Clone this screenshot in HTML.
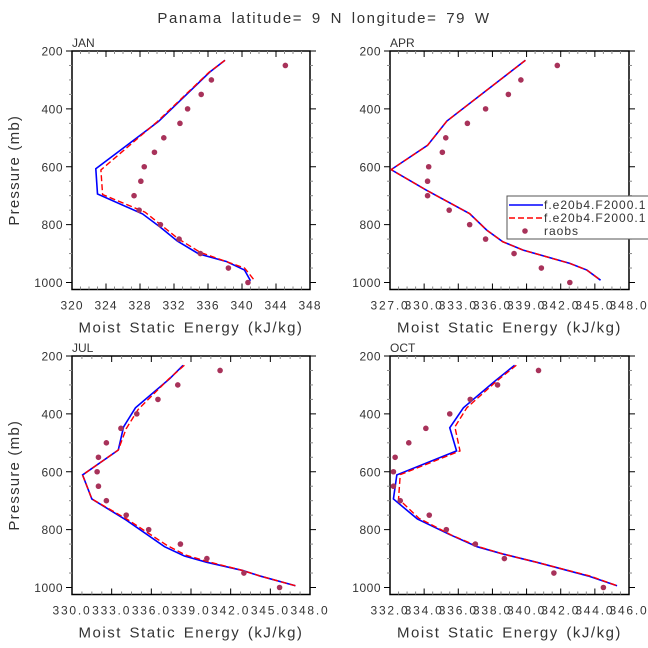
<!DOCTYPE html>
<html><head><meta charset="utf-8">
<style>
body{margin:0;background:#fff;}
svg{display:block;font-family:"Liberation Sans",sans-serif;}
</style></head>
<body>
<svg id="chart" width="648" height="648" viewBox="0 0 648 648" xmlns="http://www.w3.org/2000/svg">
<text x="324" y="23" text-anchor="middle" font-size="15" fill="#333" letter-spacing="1.6" word-spacing="3">Panama  latitude= 9 N longitude= 79 W</text>
</svg>
<script>
// ---- data ----
const obsLevels = [250,300,350,400,450,500,550,600,650,700,750,800,850,900,950,1000];
const pressureTicks = [200,400,600,800,1000];

const janXTicks = [320,324,328,332,336,340,344,348];
const janBlueE = [338.0,336.2,330.2,322.8,323.0,328.3,330.4,332.4,334.9,338.2,340.3,341.0];
const janBlueP = [232,273,443,607,694,763,809,857,901,928,957,994];
const janRedE = [338.0,336.1,330.0,323.4,323.6,328.6,332.5,335.1,340.3,341.5];
const janRedP = [232,274,445,611,696,757,849,896,950,994];
const janObs = [345.1,336.4,335.2,333.6,332.7,330.8,329.7,328.5,328.1,327.3,327.9,330.4,332.6,335.1,338.4,340.7];

const aprXTicks = [327,330,333,336,339,342,345,348];
const aprBlueE = [338.9,332.0,330.3,327.1,330.2,334.0,335.5,336.9,338.7,342.8,344.3,345.5];
const aprBlueP = [232,442,526,610,681,762,819,859,888,934,957,992];
const aprRedE = [338.9,332.0,330.3,327.1,330.2,334.0,335.5,336.9,338.7,342.8,344.3,345.5];
const aprRedP = [232,442,526,610,681,762,819,859,888,934,957,992];
const aprObs = [341.7,338.5,337.4,335.4,333.8,331.9,331.6,330.4,330.3,330.3,332.2,334.0,335.4,337.9,340.3,342.8];

const julXTicks = [330,333,336,339,342,345,348];
const julBlueE = [338.4,337.4,334.8,333.9,333.5,330.8,331.5,334.1,337.0,338.5,340.2,342.9,344.2,346.9];
const julBlueP = [232,278,379,445,525,611,694,767,859,891,913,941,960,994];
const julRedE = [338.5,337.3,335.0,334.1,333.5,330.8,331.5,334.2,337.2,338.6,340.3,342.9,344.2,346.9];
const julRedP = [232,280,385,451,525,611,694,765,855,888,911,941,960,994];
const julObs = [341.2,338.0,336.5,334.9,333.7,332.6,332.0,331.9,332.0,332.6,334.1,335.8,338.2,340.2,343.0,345.7];

const octXTicks = [332,334,336,338,340,342,344,346];
const octBlueE = [339.3,338.2,336.3,335.5,335.9,332.4,332.2,333.6,335.5,337.1,338.6,340.6,343.6,345.3];
const octBlueP = [232,284,379,448,528,611,694,763,817,859,884,913,960,994];
const octRedE = [339.4,338.3,336.5,335.8,336.1,332.6,332.5,333.7,335.6,337.2,338.6,340.6,343.7,345.3];
const octRedP = [232,284,379,445,528,610,694,761,819,859,884,913,960,994];
const octObs = [340.7,338.3,336.7,335.5,334.1,333.1,332.3,332.2,332.2,332.6,334.3,335.3,337.0,338.7,341.6,344.5];

const svg = document.getElementById('chart');
const NS = 'http://www.w3.org/2000/svg';
function mk(tag, attrs, parent){
  const e = document.createElementNS(NS, tag);
  for (const k in attrs) e.setAttribute(k, attrs[k]);
  (parent||svg).appendChild(e);
  return e;
}

function panel(cfg){
  const {name,x0,x1,y0,xmin,xmax,xticks,fmt,blueE,blueP,redE,redP,obs,showY,ls} = cfg;
  const y200 = y0, y1000 = y0 + 231.5;
  const ybot = y0 + 238.5;
  const g = mk('g', {});
  
  
  const sx = v => x0 + (v - xmin) / (xmax - xmin) * (x1 - x0);
  const sy = p => y200 + (p - 200) / 800 * (y1000 - y200);
  const fr = mk('rect', {x:x0, y:y0, width:x1-x0, height:ybot-y0, fill:'none', stroke:'#000', 'stroke-width':1.5}, g);
  
  
  const nMaj = xticks.length - 1;
  for (let i = 0; i <= nMaj * 4; i++) {
    const xx = x0 + i / (nMaj * 4) * (x1 - x0);
    const len = i % 4 === 0 ? 6 : 3;
    const col = i % 4 === 0 ? '#000' : '#888';
    mk('line', {x1:xx, x2:xx, y1:ybot, y2:ybot-len, stroke:col, 'stroke-width':1}, g);
    mk('line', {x1:xx, x2:xx, y1:y0, y2:y0+len, stroke:col, 'stroke-width':1}, g);
  }
  xticks.forEach(v => {
    const t = mk('text', {x:sx(v), y:ybot+20, 'text-anchor':'middle', 'font-size':12, fill:'#333', 'letter-spacing':ls}, g);
    
    
    t.textContent = fmt(v);
  });
  for (let p = 200; p <= 1000; p += 50) {
    const yy = sy(p);
    const maj = p % 200 === 0;
    const len = maj ? 6 : 3;
    const col = maj ? '#000' : '#888';
    mk('line', {x1:x0, x2:x0-len, y1:yy, y2:yy, stroke:col, 'stroke-width':1}, g);
    mk('line', {x1:x1, x2:x1+len, y1:yy, y2:yy, stroke:col, 'stroke-width':1}, g);
  }
  pressureTicks.forEach(p => {
    const t = mk('text', {x:x0-9, y:sy(p)+4.5, 'text-anchor':'end', 'font-size':12, fill:'#333', 'letter-spacing':0.5}, g);
    
    
    t.textContent = p;
  });
  const lab = mk('text', {x:x0, y:y0-4, 'font-size':12, fill:'#333'}, g);
  
  
  lab.textContent = name;
  const xt = mk('text', {x:(x0+x1)/2, y:ybot+43, 'text-anchor':'middle', 'font-size':15, fill:'#333', 'letter-spacing':1.5, 'word-spacing':2}, g);
  
  
  xt.textContent = 'Moist Static Energy (kJ/kg)';
  if (showY) {
    const cy = (y0 + ybot) / 2;
    const yt = mk('text', {x:19, y:cy, 'text-anchor':'middle', 'font-size':15, fill:'#333', 'letter-spacing':1.2, transform:'rotate(-90 19 '+cy+')'}, g);
    
    
    yt.textContent = 'Pressure (mb)';
  }
  const cp = mk('clipPath', {id:'clip'+name}, g);
  mk('rect', {x:x0, y:y0, width:x1-x0, height:ybot-y0}, cp);
  const b = mk('polyline', {points: blueE.map((v,i)=>sx(v)+','+sy(blueP[i])).join(' '), fill:'none', stroke:'#0000ff', 'stroke-width':1.6, 'clip-path':'url(#clip'+name+')'}, g);
  
  
  const r = mk('polyline', {points: redE.map((v,i)=>sx(v)+','+sy(redP[i])).join(' '), fill:'none', stroke:'#ff0000', 'stroke-width':1.4, 'stroke-dasharray':'6,3', 'clip-path':'url(#clip'+name+')'}, g);
  
  
  obs.forEach((v,i) => {
    const c = mk('circle', {cx:sx(v), cy:sy(obsLevels[i]), r:2.8, fill:'#a8325a'}, g);
    
    
  });
  return g;
}

const f0 = v => String(v);
const f1 = v => v.toFixed(1);
panel({name:'JAN', x0:72, x1:310, y0:51, xmin:320, xmax:348, xticks:janXTicks, fmt:f0, blueE:janBlueE, blueP:janBlueP, redE:janRedE, redP:janRedP, obs:janObs, showY:true, ls:1});
panel({name:'APR', x0:390, x1:629, y0:51, xmin:327, xmax:348, xticks:aprXTicks, fmt:f1, blueE:aprBlueE, blueP:aprBlueP, redE:aprRedE, redP:aprRedP, obs:aprObs, showY:false, ls:1.8});
panel({name:'JUL', x0:72, x1:310, y0:356, xmin:330, xmax:348, xticks:julXTicks, fmt:f1, blueE:julBlueE, blueP:julBlueP, redE:julRedE, redP:julRedP, obs:julObs, showY:true, ls:1.8});
panel({name:'OCT', x0:390, x1:629, y0:356, xmin:332, xmax:346, xticks:octXTicks, fmt:f1, blueE:octBlueE, blueP:octBlueP, redE:octRedE, redP:octRedP, obs:octObs, showY:false, ls:1.8});

const lg = mk('g', {});


mk('rect', {x:507, y:196, width:150, height:43, fill:'#fff', stroke:'#555', 'stroke-width':1}, lg);
mk('line', {x1:509, x2:543, y1:205, y2:205, stroke:'#0000ff', 'stroke-width':1.6}, lg);
mk('line', {x1:509, x2:543, y1:218, y2:218, stroke:'#ff0000', 'stroke-width':1.4, 'stroke-dasharray':'6,3'}, lg);
mk('circle', {cx:525, cy:231, r:2.8, fill:'#a8325a'}, lg);
[['f.e20b4.F2000.1',209,'legend-entry-model-1'],['f.e20b4.F2000.1',222,'legend-entry-model-2'],['raobs',235,'legend-entry-raobs']].forEach(d => {
  const t = mk('text', {x:544, y:d[1], 'font-size':12, fill:'#333', 'letter-spacing':1}, lg);
  
  
  t.textContent = d[0];
});
</script>
</body></html>
